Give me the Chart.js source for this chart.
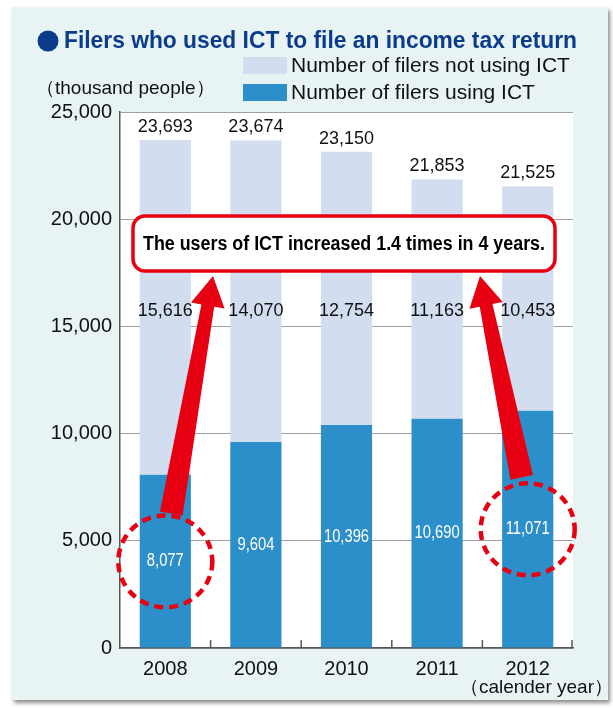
<!DOCTYPE html>
<html>
<head>
<meta charset="utf-8">
<script src="https://cdn.jsdelivr.net/npm/chart.js@4.4.1/dist/chart.umd.min.js"></script>
<style>
  body { margin: 0; background: #fff; }
  canvas { display: block; }
</style>
</head>
<body>
<canvas id="ict" width="613" height="708"></canvas>
<script>
const years = ['2008', '2009', '2010', '2011', '2012'];
const usingIct = [8077, 9604, 10396, 10690, 11071];
const notUsingIct = [15616, 14070, 12754, 11163, 10453];
const totals = [23693, 23674, 23150, 21853, 21525];
const yTicks = [0, 5000, 10000, 15000, 20000, 25000];

const blue = '#2d8fc9';
const pale = '#d2deef';
const red = '#e60012';
const navy = '#0b3c8c';
const sans = '"Liberation Sans", Arial, sans-serif';
const fmt = v => v.toLocaleString('en-US');

function roundRect(ctx, x, y, w, h, r) {
  ctx.beginPath();
  ctx.moveTo(x + r, y);
  ctx.arcTo(x + w, y, x + w, y + h, r);
  ctx.arcTo(x + w, y + h, x, y + h, r);
  ctx.arcTo(x, y + h, x, y, r);
  ctx.arcTo(x, y, x + w, y, r);
  ctx.closePath();
}

// text squeezed horizontally, centred on (x, y)
function narrowText(ctx, text, x, y, squeeze) {
  ctx.save();
  ctx.translate(x, y);
  ctx.scale(squeeze, 1);
  ctx.fillText(text, 0, 0);
  ctx.restore();
}

// thick tapered arrow from tail to tip
function arrow(ctx, x0, y0, x1, y1) {
  const len = Math.hypot(x1 - x0, y1 - y0);
  const dx = (x1 - x0) / len, dy = (y1 - y0) / len;
  const nx = -dy, ny = dx;
  const tailW = 23, neckW = 13, headW = 34, headLen = 30;
  const hx = x1 - dx * headLen, hy = y1 - dy * headLen;
  const pts = [
    [x0 + nx * tailW / 2, y0 + ny * tailW / 2],
    [hx + nx * neckW / 2, hy + ny * neckW / 2],
    [hx + nx * headW / 2, hy + ny * headW / 2],
    [x1, y1],
    [hx - nx * headW / 2, hy - ny * headW / 2],
    [hx - nx * neckW / 2, hy - ny * neckW / 2],
    [x0 - nx * tailW / 2, y0 - ny * tailW / 2]
  ];
  ctx.beginPath();
  pts.forEach(([x, y], i) => i ? ctx.lineTo(x, y) : ctx.moveTo(x, y));
  ctx.closePath();
  ctx.fillStyle = red;
  ctx.fill();
}

const backdrop = {
  id: 'backdrop',
  beforeDraw(chart) {
    const { ctx, chartArea: a } = chart;
    ctx.save();
    ctx.shadowColor = 'rgba(0,0,0,0.45)';
    ctx.shadowBlur = 4;
    ctx.shadowOffsetX = 2;
    ctx.shadowOffsetY = 3;
    ctx.fillStyle = '#e8f4f4';
    ctx.fillRect(12, 7, 596, 693);
    ctx.restore();

    ctx.save();
    ctx.fillStyle = '#fff';
    ctx.fillRect(a.left, a.top, a.right - a.left, a.bottom - a.top);

    // heading with bullet
    ctx.fillStyle = navy;
    ctx.beginPath();
    ctx.arc(48, 41, 10.5, 0, Math.PI * 2);
    ctx.fill();
    ctx.font = 'bold 24px ' + sans;
    ctx.textBaseline = 'middle';
    ctx.textAlign = 'left';
    ctx.fillText('Filers who used ICT to file an income tax return', 64, 41, 513);

    // legend, drawn from the datasets
    ctx.font = '21px ' + sans;
    const ds = chart.data.datasets;
    [ds[1], ds[0]].forEach((d, i) => {
      const y = 65 + i * 27;
      ctx.fillStyle = d.backgroundColor;
      ctx.fillRect(243, y - 8, 44, 17);
      ctx.fillStyle = '#111';
      ctx.fillText(d.label, 291, y + 1);
    });

    ctx.font = '19px ' + sans;
    ctx.fillText('（thousand people）', 36, 89);
    ctx.textAlign = 'right';
    ctx.fillText('（calender year）', 613, 688);
    ctx.restore();
  }
};

const valueLabels = {
  id: 'valueLabels',
  afterDatasetsDraw(chart) {
    const { ctx, scales: { x, y } } = chart;
    ctx.save();
    ctx.textAlign = 'center';
    ctx.textBaseline = 'middle';
    years.forEach((yr, i) => {
      const cx = x.getPixelForValue(i);
      ctx.fillStyle = '#111';
      ctx.font = '18px ' + sans;
      ctx.fillText(fmt(totals[i]), cx, y.getPixelForValue(totals[i]) - 13);
      ctx.fillText(fmt(notUsingIct[i]), cx, y.getPixelForValue(15700));
      ctx.fillStyle = '#fff';
      narrowText(ctx, fmt(usingIct[i]), cx, y.getPixelForValue(usingIct[i] / 2), 0.82);
    });

    // upward ticks between categories on the bottom axis
    ctx.strokeStyle = '#555';
    ctx.lineWidth = 1.5;
    for (let i = 0; i < years.length; i++) {
      const tx = i < years.length - 1
        ? (x.getPixelForValue(i) + x.getPixelForValue(i + 1)) / 2
        : chart.chartArea.right - 1;
      ctx.beginPath();
      ctx.moveTo(tx, y.bottom);
      ctx.lineTo(tx, y.bottom - 8);
      ctx.stroke();
    }
    ctx.restore();
  }
};

const callout = {
  id: 'callout',
  afterDraw(chart) {
    const { ctx, scales: { x, y } } = chart;
    ctx.save();

    // dashed rings round the first and last ICT values
    const rings = [0, years.length - 1].map(i => ({
      cx: x.getPixelForValue(i),
      cy: y.getPixelForValue(usingIct[i] / 2)
    }));
    ctx.strokeStyle = red;
    ctx.lineWidth = 4.5;
    ctx.setLineDash([9, 6]);
    rings.forEach(r => {
      ctx.beginPath();
      ctx.ellipse(r.cx, r.cy, 47, 46, 0, 0, Math.PI * 2);
      ctx.stroke();
    });
    ctx.setLineDash([]);

    arrow(ctx, rings[0].cx + 6, rings[0].cy - 48, 213, 276);
    arrow(ctx, rings[1].cx - 6, rings[1].cy - 52, 480, 276);

    // message box
    roundRect(ctx, 133, 216, 422, 55, 12);
    ctx.fillStyle = '#fff';
    ctx.fill();
    ctx.lineWidth = 3.5;
    ctx.strokeStyle = red;
    ctx.stroke();
    ctx.fillStyle = '#000';
    ctx.font = 'bold 20px ' + sans;
    ctx.textAlign = 'center';
    ctx.textBaseline = 'middle';
    ctx.fillText('The users of ICT increased 1.4 times in 4 years.', 344, 244, 402);
    ctx.restore();
  }
};

new Chart(document.getElementById('ict'), {
  type: 'bar',
  data: {
    labels: years,
    datasets: [
      { label: 'Number of filers using ICT', data: usingIct, backgroundColor: blue },
      { label: 'Number of filers not using ICT', data: notUsingIct, backgroundColor: pale }
    ]
  },
  options: {
    responsive: false,
    devicePixelRatio: 1,
    animation: false,
    layout: { padding: { left: 12, top: 112, right: 40, bottom: 0 } },
    datasets: { bar: { categoryPercentage: 1, barPercentage: 0.565 } },
    plugins: {
      legend: { display: false },
      tooltip: { enabled: false }
    },
    scales: {
      x: {
        stacked: true,
        afterFit: s => { s.height = 60; },
        grid: { display: false },
        border: { display: true, color: '#555', width: 1.5 },
        ticks: { color: '#111', font: { family: sans, size: 20 }, padding: 1 }
      },
      y: {
        stacked: true,
        min: 0,
        max: 25000,
        afterFit: s => { s.width = 108; },
        afterBuildTicks: s => { s.ticks = yTicks.map(v => ({ value: v })); },
        grid: { color: '#a0a0a0', lineWidth: 1, drawTicks: false },
        border: { display: true, color: '#555', width: 1.5 },
        ticks: {
          color: '#111',
          padding: 8,
          font: { family: sans, size: 20 },
          callback: v => fmt(v)
        }
      }
    }
  },
  plugins: [backdrop, valueLabels, callout]
});
</script>
</body>
</html>
